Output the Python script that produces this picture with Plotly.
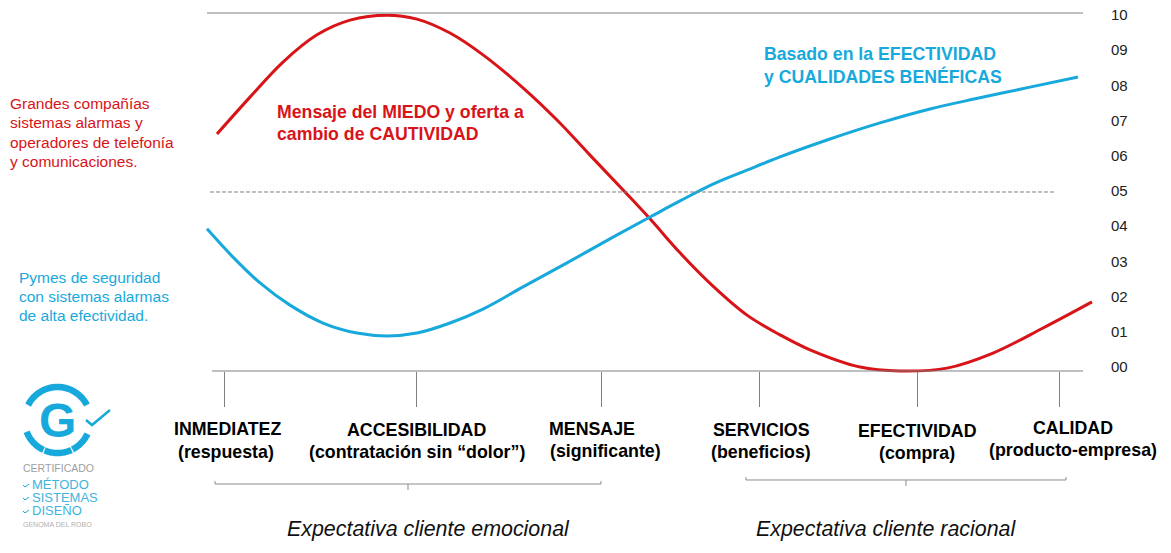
#!/usr/bin/env python3
import numpy as np
import plotly.graph_objects as go

W, H = 1171, 553
RED = '#d81418'
BLUE = '#18a9dc'
GREY = '#808080'

# position along the customer path, same units as the category ticks
red_x = [217, 250, 283, 317, 350, 387, 417, 450, 483, 523, 557, 590, 625,
         650, 680, 713, 747, 780, 810, 860, 900, 947, 993, 1043, 1092]
red_y = [6.62, 7.65, 8.63, 9.39, 9.80, 9.94, 9.83, 9.44, 8.83, 7.91, 7.01, 6.03, 5.00,
         4.25, 3.30, 2.37, 1.56, 1.01, 0.59, 0.11, 0.0, 0.08, 0.50, 1.20, 1.93]
blue_x = [207, 233, 260, 290, 323, 357, 387, 417, 450, 483, 523, 567,
          613, 650, 680, 713, 747, 780, 830, 880, 930, 980, 1030, 1078]
blue_y = [3.97, 3.18, 2.46, 1.84, 1.34, 1.06, 0.98, 1.06, 1.34, 1.73, 2.35, 3.02,
          3.74, 4.30, 4.75, 5.22, 5.61, 5.98, 6.48, 6.93, 7.32, 7.63, 7.93, 8.21]
tick_pos = [224, 416, 601, 759, 917, 1059]
scale_vals = list(range(11))
scale_text = ['00', '01', '02', '03', '04', '05', '06', '07', '08', '09', '10']


def px(x):
    return x / W


def py(y):
    return 1 - y / H


def label(x, y, text, size=17.8, color='black', anchor='center', bold=False, italic=False):
    if bold:
        text = '<b>' + text + '</b>'
    if italic:
        text = '<i>' + text + '</i>'
    fig.add_annotation(x=px(x), y=py(y), xref='paper', yref='paper', text=text, showarrow=False,
                       xanchor=anchor, yanchor='middle', borderpad=0,
                       font=dict(family='Liberation Sans', size=size, color=color))


def stroke(points, color=GREY, width=1, dash='solid'):
    path = 'M ' + ' L '.join(f'{px(a):.5f},{py(b):.5f}' for a, b in points)
    fig.add_shape(type='path', path=path, xref='paper', yref='paper',
                  line=dict(color=color, width=width, dash=dash))


def arc(cx, cy, r, a0, a1):
    t = np.radians(np.linspace(a0, a1, 24))
    return list(zip(cx + r * np.cos(t), cy - r * np.sin(t)))


fig = go.Figure()
fig.add_trace(go.Scatter(x=red_x, y=red_y, mode='lines', line=dict(color=RED, width=3, shape='spline')))
fig.add_trace(go.Scatter(x=blue_x, y=blue_y, mode='lines', line=dict(color=BLUE, width=3, shape='spline')))
# only here so the right hand scale gets drawn
fig.add_trace(go.Scatter(x=[tick_pos[0]], y=[0], yaxis='y2', mode='markers', marker=dict(opacity=0)))

fig.update_layout(
    width=W, height=H, autosize=False,
    margin=dict(l=0, r=0, t=0, b=0),
    paper_bgcolor='white', plot_bgcolor='white', showlegend=False,
    xaxis=dict(range=[0, W], showgrid=False, zeroline=False, showline=False,
               tickvals=tick_pos, ticktext=[''] * 6, ticks='outside', ticklen=35, tickcolor=GREY, tickwidth=1,
               anchor='free', position=py(371)),
    yaxis=dict(range=[-5.084, 10.363], visible=False),
    yaxis2=dict(range=[-5.284, 10.426], overlaying='y', side='right', anchor='free', position=px(1110),
                tickvals=scale_vals, ticktext=scale_text, showgrid=False, zeroline=False, showline=False,
                ticks='', tickfont=dict(family='Liberation Sans', size=15, color='#222222')),
)

fig.add_shape(type='line', x0=207, x1=1083, y0=10, y1=10, line=dict(color=GREY, width=1))
fig.add_shape(type='line', x0=212, x1=1083, y0=0, y1=0, line=dict(color=GREY, width=1))
fig.add_shape(type='line', x0=210, x1=1056, y0=5, y1=5, line=dict(color=GREY, width=1, dash='4px,2px'))

# brackets under the categories
stroke([(215, 481), (215, 484), (601, 484), (601, 481)], '#8c8c8c')
stroke([(408, 484), (408, 490)], '#8c8c8c')
stroke([(746, 477), (746, 480), (1066, 480), (1066, 477)], '#8c8c8c')
stroke([(906, 480), (906, 486)], '#8c8c8c')

# category labels
label(227, 429, 'INMEDIATEZ', bold=True)
label(226, 452, '(respuesta)', bold=True)
label(416, 430, 'ACCESIBILIDAD', bold=True)
label(417, 452, '(contratación sin “dolor”)', bold=True)
label(592, 429, 'MENSAJE', bold=True)
label(605, 451, '(significante)', bold=True)
label(761, 430, 'SERVICIOS', bold=True)
label(761, 452, '(beneficios)', bold=True)
label(917, 431, 'EFECTIVIDAD', bold=True)
label(917, 453, '(compra)', bold=True)
label(1073, 428, 'CALIDAD', bold=True)
label(1073, 450, '(producto-empresa)', bold=True)

label(428, 529, 'Expectativa cliente emocional', size=21.4, italic=True, color='#111111')
label(886, 529, 'Expectativa cliente racional', size=21.4, italic=True, color='#111111')

label(276, 112, 'Mensaje del MIEDO y oferta a', size=17.7, color=RED, anchor='left', bold=True)
label(276, 134, 'cambio de CAUTIVIDAD', size=17.7, color=RED, anchor='left', bold=True)
label(763, 54, 'Basado en la EFECTIVIDAD', size=17.7, color=BLUE, anchor='left', bold=True)
label(763, 76, 'y CUALIDADES BENÉFICAS', size=17.7, color=BLUE, anchor='left', bold=True)

for i, line in enumerate(['Grandes compañías', 'sistemas alarmas y', 'operadores de telefonía', 'y comunicaciones.']):
    label(9, 104 + i * 19, line, size=15.5, color=RED, anchor='left')
for i, line in enumerate(['Pymes de seguridad', 'con sistemas alarmas', 'de alta efectividad.']):
    label(18, 277 + i * 19, line, size=15.5, color=BLUE, anchor='left')

# logo
for a0, a1 in [(27, 153), (201, 245), (247, 295), (297, 335)]:
    stroke(arc(57.5, 420, 33, a0, a1), BLUE, 6.5)
label(57, 420, 'G', size=48, color=BLUE, bold=True)
stroke([(86, 420), (92, 425), (110, 410)], BLUE, 2.5)
label(22, 468, 'CERTIFICADO', size=10.5, color='#a0a0a0', anchor='left')
for i, word in enumerate(['MÉTODO', 'SISTEMAS', 'DISEÑO']):
    y = 484 + i * 13
    stroke([(23, y + 1), (25, y + 3), (29, y)], BLUE, 1)
    label(31, y, word, size=13, color='#3fb4dc', anchor='left')
label(22, 524, 'GENOMA DEL ROBO', size=7, color='#b0b0b0', anchor='left')

# the page margin would push everything 8px off
fig.write_html('out.html', config={'displayModeBar': False}, post_script="document.body.style.margin='0';")
